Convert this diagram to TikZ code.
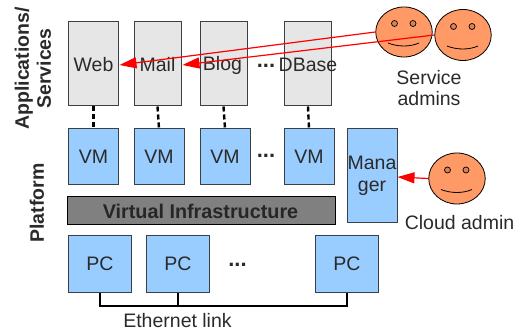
\documentclass[tikz,border=0pt]{standalone}
\usepackage{fontspec}
\setmainfont{Liberation Sans}
\usetikzlibrary{arrows.meta,shapes.geometric}
\definecolor{boxblue}{HTML}{99CCFF}
\definecolor{boxgray}{HTML}{E6E6E6}
\definecolor{barb}{HTML}{808080}
\definecolor{facec}{HTML}{FF9966}
\definecolor{inkc}{HTML}{2A2A2A}
\definecolor{edgec}{HTML}{3A4048}
\tikzset{
  x=1pt,y=-1pt,
  lab/.style={font=\fontsize{19.5}{21}\selectfont,text=inkc,inner sep=0pt,align=center},
  appbox/.style={draw=edgec,line width=1pt,fill=boxgray,inner sep=0pt},
  bluebox/.style={draw=edgec,line width=1pt,fill=boxblue,inner sep=0pt},
  sidelab/.style={font=\fontsize{19.5}{22}\bfseries\selectfont,text=inkc,rotate=90,align=center,inner sep=0pt},
  faceb/.style={draw=black,line width=0.8pt,fill=facec,inner sep=0pt},
  dotlink/.style={line width=2.4pt,black,dash pattern=on 5pt off 3pt},
  redarrow/.style={red,line width=1.2pt,-{Triangle[length=17pt,width=11pt]}},
  wire/.style={line width=2.2pt,black},
  dotsl/.style={font=\fontsize{22}{24}\bfseries\selectfont,text=inkc,inner sep=0pt,anchor=base},
}
\newcommand{\smiley}[4]{% name, cx, cy, ry
  \node[faceb,ellipse,minimum width=56.5pt,minimum height=#4*2pt] (#1) at (#2,#3) {};
  \draw[line width=0.7pt,fill=facec!85!black] (#2-9.5,#3-8.5) ellipse [x radius=3,y radius=3];
  \draw[line width=0.7pt,fill=facec!85!black] (#2+9,#3-8.5) ellipse [x radius=3,y radius=3];
  \draw[line width=0.8pt] (#2-16,#3+11) .. controls (#2-6,#3+15) and (#2+6,#3+15) .. (#2+15,#3+11);
}
\begin{document}
\begin{tikzpicture}
\useasboundingbox (0,0) rectangle (520,331);
% application boxes
\node[appbox,minimum width=50pt,minimum height=84pt] (web) at (93.5,64) {};
\node[appbox,minimum width=47pt,minimum height=84pt] (mail) at (157.5,64) {};
\node[appbox,minimum width=47pt,minimum height=84pt] (blog) at (223.5,64) {};
\node[appbox,minimum width=47pt,minimum height=84pt] (dbase) at (308,64) {};
% VMs
\node[bluebox,minimum width=50pt,minimum height=56pt] (vm1) at (93.5,157) {};
\node[bluebox,minimum width=50pt,minimum height=56pt] (vm2) at (159,157) {};
\node[bluebox,minimum width=50pt,minimum height=56pt] (vm3) at (225,157) {};
\node[bluebox,minimum width=50pt,minimum height=56pt] (vm4) at (309,157) {};
\node[bluebox,minimum width=50pt,minimum height=94pt] (mgr) at (372,176) {};
\node[draw=black,line width=1pt,fill=barb,minimum width=268pt,minimum height=27.5pt,inner sep=0pt] (vi) at (201,210.5) {};
% PCs
\node[bluebox,minimum width=62.5pt,minimum height=56.5pt] (pc1) at (99.8,263.8) {};
\node[bluebox,minimum width=63pt,minimum height=56.5pt] (pc2) at (178,263.8) {};
\node[bluebox,minimum width=63pt,minimum height=56.5pt] (pc3) at (347,263.8) {};
% text
\node[lab] (tweb) at (93.5,65) {Web};
\node[lab] (tmail) at (157.5,65) {Mail};
\node[lab] (tblog) at (222.5,65) {Blog};
\node[lab] (tdbase) at (308,65) {DBase};
\node[lab] at (93.5,157) {VM};
\node[lab] at (159,157) {VM};
\node[lab] at (225,157) {VM};
\node[lab] at (309,157) {VM};
\node[lab,font=\fontsize{19.5}{22}\selectfont] at (372,176) {Mana\\ger};
\node[font=\fontsize{19.8}{22}\bfseries\selectfont,text=black!85,inner sep=0pt] at (200.5,211) {Virtual Infrastructure};
\node[lab] at (99.8,263.8) {PC};
\node[lab] at (178,263.8) {PC};
\node[lab] at (347,263.8) {PC};
\node[dotsl] at (266,68) {...};
\node[dotsl] at (266,158) {...};
\node[dotsl] at (237.5,267) {...};
\node[sidelab] at (33,68.5) {Applications/\\Services};
\node[sidelab] at (37,203) {Platform};
\node[lab] at (429,88) {Service\\admins};
\node[lab] at (459.5,223) {Cloud admin};
\node[lab] at (177.5,320.5) {Ethernet link};
% dotted links
\draw[dotlink] (web.south) -- (vm1.north);
\draw[dotlink] (mail.south) -- (vm2.north);
\draw[dotlink] (blog.south) -- (vm3.north);
\draw[dotlink] (dbase.south) -- (vm4.north);
% ethernet
\coordinate (e1) at (99.8,306);
\coordinate (e2) at (178,306);
\coordinate (e3) at (347,306);
\draw[wire] (pc1.south) -- (e1) -- (e3) -- (pc3.south);
\draw[wire] (pc2.south) -- (e2);
% faces
\smiley{fa}{404}{32}{25}
\smiley{fb}{463}{35}{25.5}
\smiley{fc}{457}{178.5}{25.5}
% arrows
\coordinate (aw) at (119.5,65);
\coordinate (am) at (182.5,65);
\draw[redarrow] (fa.west) -- (aw);
\draw[redarrow] (fb.west) -- (am);
\draw[redarrow] (fc.west) -- (mgr.east |- 0,177);
\end{tikzpicture}
\end{document}
